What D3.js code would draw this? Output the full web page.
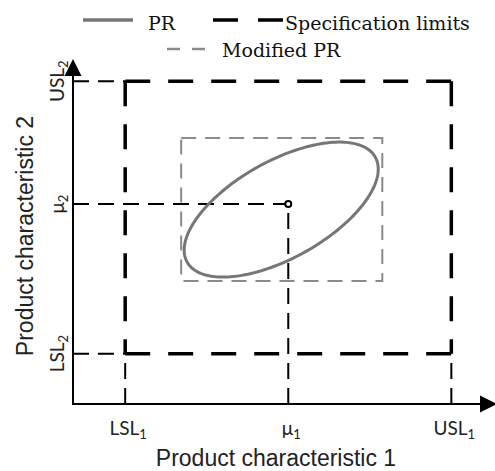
<!DOCTYPE html>
<html>
<head>
<meta charset="utf-8">
<script src="https://cdn.jsdelivr.net/npm/d3@7"></script>
<style>
  html, body { margin: 0; padding: 0; background: #fff; }
  svg { display: block; }
</style>
</head>
<body>
<svg id="chart" width="495" height="471"></svg>
<script>
// Specification limits and process mean for the two characteristics
const xTickLabels = ["LSL", "μ", "USL"];
const xTickValues = [0.96, 3.96, 6.96];
const xTickSubs = ["1", "1", "1"];
const yTickLabels = ["LSL", "μ", "USL"];
const yTickValues = [1.0, 3.97, 6.41];
const yTickSubs = ["2", "2", "2"];

// Process region (bivariate contour) and its bounding "modified" region
const prCenter = [3.83, 3.86];
const prSpread = [1.785, 1.34];
const prCorrelation = 0.6;
const modifiedX = [1.99, 5.69];
const modifiedY = [2.44, 5.28];

// Axis extents (data units)
const axisMax = [7.8, 6.85];

const legendLabels = ["PR", "Specification limits", "Modified PR"];
const axisTitles = ["Product characteristic 1", "Product characteristic 2"];

const svg = d3.select("#chart");
const x = d3.scaleLinear().domain([0, axisMax[0]]).range([73, 497]);
const y = d3.scaleLinear().domain([0, axisMax[1]]).range([404, 59]);

const BLACK = "#000";
const GRAY_PR = "#767676";
const GRAY_MOD = "#8a8a8a";

// ---- guide lines from the axes to the limits and the mean ----
const guide = svg.append("g")
  .attr("stroke", BLACK).attr("stroke-width", 2).attr("fill", "none")
  .attr("stroke-dasharray", "16,9");
// vertical guides: axis up to the lower spec limit (or up to the mean)
[xTickValues[0], xTickValues[2]].forEach(v => {
  guide.append("line").attr("x1", x(v)).attr("x2", x(v))
    .attr("y1", y(0)).attr("y2", y(yTickValues[0]));
});
guide.append("line").attr("x1", x(xTickValues[1])).attr("x2", x(xTickValues[1]))
  .attr("y1", y(0)).attr("y2", y(yTickValues[1]) + 3);
// horizontal guides: axis out to the lower spec limit (or to the mean)
[yTickValues[0], yTickValues[2]].forEach(v => {
  guide.append("line").attr("x1", x(0)).attr("x2", x(xTickValues[0]))
    .attr("y1", y(v)).attr("y2", y(v));
});
guide.append("line").attr("x1", x(0)).attr("x2", x(xTickValues[1]) - 3)
  .attr("y1", y(yTickValues[1])).attr("y2", y(yTickValues[1]));

// ---- specification limits box ----
const spec = svg.append("g")
  .attr("stroke", BLACK).attr("stroke-width", 3.5).attr("fill", "none")
  .attr("stroke-dasharray", "25,18");
const [lx, , ux] = xTickValues;
const [ly, , uy] = yTickValues;
const sides = [
  [[lx, uy], [ux, uy]],
  [[ux, uy], [ux, ly]],
  [[lx, ly], [ux, ly]],
  [[lx, uy], [lx, ly]]
];
sides.forEach(([a, b]) => {
  spec.append("line")
    .attr("x1", x(a[0])).attr("y1", y(a[1]))
    .attr("x2", x(b[0])).attr("y2", y(b[1]));
});

// ---- modified process region ----
svg.append("rect")
  .attr("x", x(modifiedX[0])).attr("y", y(modifiedY[1]))
  .attr("width", x(modifiedX[1]) - x(modifiedX[0]))
  .attr("height", y(modifiedY[0]) - y(modifiedY[1]))
  .attr("fill", "none").attr("stroke", GRAY_MOD).attr("stroke-width", 2)
  .attr("stroke-dasharray", "15,9");

// ---- process region ellipse ----
const rhoC = Math.sqrt(1 - prCorrelation * prCorrelation);
const ts = d3.range(0, 2 * Math.PI, Math.PI / 90);
const ellipse = d3.line()
  .x(t => x(prCenter[0] + prSpread[0] * Math.cos(t)))
  .y(t => y(prCenter[1] + prSpread[1] * (prCorrelation * Math.cos(t) + rhoC * Math.sin(t))))
  .curve(d3.curveLinearClosed);
svg.append("path").attr("d", ellipse(ts))
  .attr("fill", "none").attr("stroke", GRAY_PR).attr("stroke-width", 3);

// ---- mean marker ----
svg.append("circle")
  .attr("cx", x(xTickValues[1])).attr("cy", y(yTickValues[1])).attr("r", 3)
  .attr("fill", "#fff").attr("stroke", BLACK).attr("stroke-width", 2);

// ---- axes with arrowheads ----
const axes = svg.append("g").attr("stroke", BLACK).attr("stroke-width", 2);
axes.append("line").attr("x1", x(0)).attr("x2", x(axisMax[0]) - 10)
  .attr("y1", y(0)).attr("y2", y(0));
axes.append("line").attr("x1", x(0)).attr("x2", x(0))
  .attr("y1", y(0) + 1).attr("y2", y(axisMax[1]) + 10);
svg.append("path")
  .attr("d", `M${x(axisMax[0])},${y(0)} L${x(axisMax[0]) - 17},${y(0) - 8.5} L${x(axisMax[0]) - 17},${y(0) + 8.5} Z`)
  .attr("fill", BLACK);
svg.append("path")
  .attr("d", `M${x(0)},${y(axisMax[1])} L${x(0) - 8.5},${y(axisMax[1]) + 17} L${x(0) + 8.5},${y(axisMax[1]) + 17} Z`)
  .attr("fill", BLACK);

// ---- tick labels ----
const tickFont = "Lato, 'Open Sans', sans-serif";
function addLabel(g, main, sub) {
  g.append("tspan").text(main);
  g.append("tspan").text(sub).attr("font-size", 13).attr("dy", 4);
}
xTickValues.forEach((v, i) => {
  const t = svg.append("text")
    .attr("x", x(v) + 3).attr("y", 435)
    .attr("text-anchor", "middle")
    .attr("font-family", tickFont).attr("font-size", 19).attr("fill", "#222");
  addLabel(t, xTickLabels[i], xTickSubs[i]);
});
yTickValues.forEach((v, i) => {
  const t = svg.append("text")
    .attr("transform", `translate(64,${y(v)}) rotate(-90)`)
    .attr("text-anchor", "middle")
    .attr("font-family", tickFont).attr("font-size", 19).attr("fill", "#222");
  addLabel(t, yTickLabels[i], yTickSubs[i]);
});

// ---- axis titles ----
svg.append("text")
  .attr("x", 276).attr("y", 466).attr("text-anchor", "middle")
  .attr("font-family", "'Liberation Sans', Arial, sans-serif").attr("font-size", 23)
  .attr("fill", "#222").text(axisTitles[0]);
svg.append("text")
  .attr("transform", "translate(33,236) rotate(-90)").attr("text-anchor", "middle")
  .attr("font-family", "'Liberation Sans', Arial, sans-serif").attr("font-size", 23)
  .attr("fill", "#222").text(axisTitles[1]);

// ---- legend ----
const legendFont = "'DejaVu Serif', 'Liberation Serif', serif";
const lg = svg.append("g");
lg.append("line").attr("x1", 83).attr("x2", 133).attr("y1", 20).attr("y2", 20)
  .attr("stroke", GRAY_PR).attr("stroke-width", 3.5);
lg.append("text").attr("x", 148).attr("y", 30).text(legendLabels[0]);
lg.append("line").attr("x1", 213).attr("x2", 283).attr("y1", 20).attr("y2", 20)
  .attr("stroke", BLACK).attr("stroke-width", 3.5).attr("stroke-dasharray", "25,20");
lg.append("text").attr("x", 285).attr("y", 30).text(legendLabels[1]);
lg.append("line").attr("x1", 167).attr("x2", 205).attr("y1", 49).attr("y2", 49)
  .attr("stroke", GRAY_MOD).attr("stroke-width", 2.5).attr("stroke-dasharray", "13,12");
lg.append("text").attr("x", 222).attr("y", 57).text(legendLabels[2]);
lg.selectAll("text").attr("font-family", legendFont).attr("font-size", 19).attr("fill", "#111");
</script>
</body>
</html>
